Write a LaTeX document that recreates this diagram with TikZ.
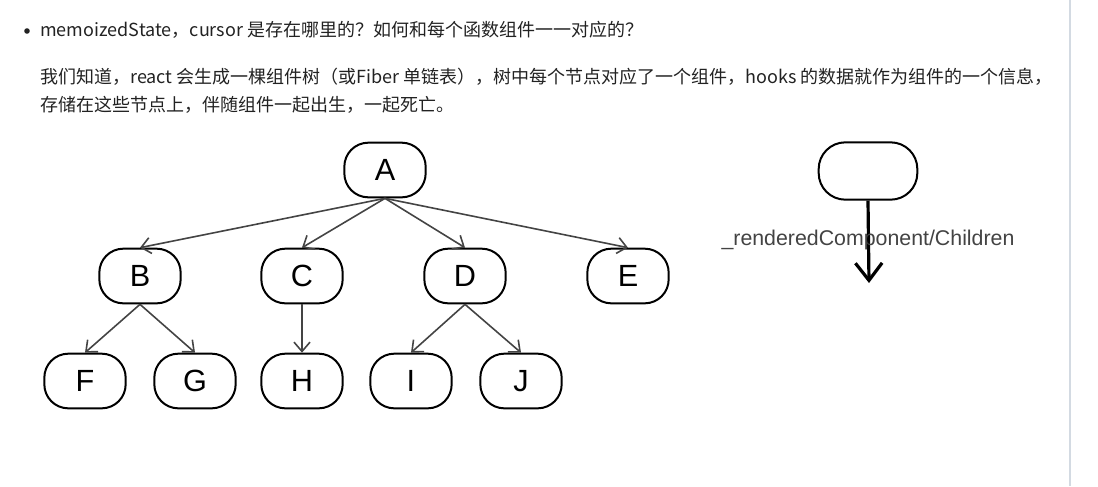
\documentclass[tikz,border=0pt]{standalone}
\usepackage{fontspec}
\setmainfont{Liberation Sans}
\newfontfamily\cjk{Noto Sans CJK SC}
\usetikzlibrary{positioning,arrows.meta}
\definecolor{txt}{HTML}{222222}
\definecolor{edge}{HTML}{444444}
\definecolor{rule}{HTML}{D3DAE2}
\begin{document}
\begin{tikzpicture}[x=0.75pt,y=-0.75pt,
  comp/.style={draw,line width=1.5pt,rounded corners=18pt,minimum width=61pt,
    minimum height=41pt,font=\fontsize{23}{23}\selectfont},
  link/.style={draw=edge,line width=1.2pt,-{Straight Barb[length=7pt,width=12pt]}},
  para/.style={anchor=west,inner sep=0pt,text=txt,font=\cjk\fontsize{13.5}{13.5}\selectfont}]
\useasboundingbox (0,0) rectangle (1098,486);
\draw[rule,line width=1.2pt] (1070,0) -- (1070,486);

% text above the tree
\fill[txt] (27,31) circle (2.8);
\node[para] (q) at (40,30) {memoizedState，cursor 是存在哪里的？如何和每个函数组件一一对应的？};
\node[para] (p1) at (40,77) {我们知道，react 会生成一棵组件树（或Fiber 单链表），树中每个节点对应了一个组件，hooks 的数据就作为组件的一个信息，};
\node[para] (p2) at (40,105) {存储在这些节点上，伴随组件一起出生，一起死亡。};

% tree
\node[comp] (A) at (385,170) {A};
\node[comp] (B) at (140,276) {B};
\node[comp] (C) at (302,276) {C};
\node[comp] (D) at (465,276) {D};
\node[comp] (E) at (628,276) {E};
\node[comp] (F) at (85,381) {F};
\node[comp] (G) at (195,381) {G};
\node[comp] (H) at (302,381) {H};
\node[comp] (I) at (411,381) {I};
\node[comp] (J) at (521,381) {J};

\foreach \k in {B,C,D,E} \draw[link] (A.south) -- (\k.north);
\draw[link] (B.south) -- (F.north);
\draw[link] (B.south) -- (G.north);
\draw[link] (C.south) -- (H.north);
\draw[link] (D.south) -- (I.north);
\draw[link] (D.south) -- (J.north);

% legend
\node[comp,minimum width=74pt,minimum height=43pt,rounded corners=20pt] (fiber) at (868,171) {};
\coordinate (down) at (869,283);
\draw[line width=2.4pt,-{Straight Barb[length=13pt,width=20pt]}] (fiber.south) -- (down);
\node[text=txt!85,font=\fontsize{16}{16}\selectfont] (lbl) at (868,240) {\_renderedComponent/Children};
\end{tikzpicture}
\end{document}
